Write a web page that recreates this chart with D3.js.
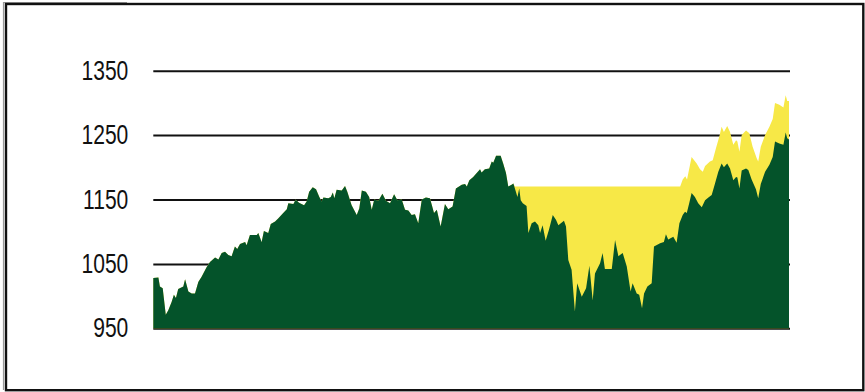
<!DOCTYPE html>
<html>
<head>
<meta charset="utf-8">
<script src="https://cdn.jsdelivr.net/npm/d3@7"></script>
<style>
  html, body { margin: 0; padding: 0; background: #fff; }
  svg { display: block; }
</style>
</head>
<body>
<svg id="chart" width="865" height="392"></svg>
<script>
// Index level by trading day
const indexDays = [0,2.0,2.6,3.7,4.9,5.9,7.2,8.1,8.9,9.8,
  11.8,12.5,13.8,15.1,16.4,17.7,19.0,21.0,22.3,24.3,
  25.6,26.9,28.2,29.5,30.8,32.1,33.0,34.1,36.1,36.7,
  38.0,40.7,41.3,42.6,43.5,45.2,46.2,47.9,49.2,51.1,
  52.5,53.1,55.1,56.0,57.3,59.3,60.3,61.3,62.7,64.0,
  65.3,66.2,66.9,68.8,69.8,70.6,71.2,72.1,74.1,75.4,
  76.3,78.0,80.0,81.0,82.0,83.6,84.9,85.9,86.9,88.5,
  90.1,91.5,93.1,94.7,96.0,97.7,99.0,100.3,101.6,102.9,
  104.2,105.6,107.2,108.8,110.4,111.5,113.0,114.7,116.0,117.7,
  119.0,121.3,122.6,123.3,124.3,125.8,127.2,128.5,129.1,130.4,
  132.1,133.1,133.7,134.8,136.6,137.6,138.7,139.6,140.9,141.6,
  142.6,143.2,143.9,144.5,145.3,146.8,147.5,148.8,150.1,151.4,
  152.1,153.1,154.3,155.6,157.1,158.4,159.3,161.5,162.3,163.2,
  164.5,165.8,166.7,168.5,170.2,171.5,172.8,173.7,175.7,176.7,
  177.6,180.3,181.6,182.9,184.6,186.2,187.7,188.5,190.1,191.1,
  192.2,193.0,194.3,196.0,196.9,199.3,200.8,201.6,202.5,204.5,
  205.8,206.9,208.2,209.1,209.8,210.8,211.7,213.0,214.3,215.7,
  217.0,218.3,219.6,220.9,222.2,223.5,224.4,225.7,226.8,228.1,
  229.2,229.7,230.5,231.4,233.1,234.0,235.3,237.0,237.9,238.9,
  240.6,242.3,243.6,244.5,246.2,247.8,248.7,249.3,250.0];
const indexValues = [1028,1029,1015,1012,971,978,991,1002,997,1011,
  1015,1026,1007,1004,1004,1022,1030,1045,1053,1060,
  1057,1067,1069,1064,1062,1077,1073,1081,1084,1079,
  1095,1095,1098,1084,1101,1098,1112,1116,1121,1129,
  1135,1144,1143,1150,1145,1141,1147,1162,1169,1166,
  1154,1147,1153,1152,1154,1161,1152,1165,1164,1171,
  1162,1141,1126,1136,1164,1162,1154,1134,1150,1148,
  1159,1148,1144,1158,1149,1150,1134,1133,1126,1127,
  1113,1150,1153,1152,1129,1134,1108,1143,1135,1139,
  1167,1173,1174,1170,1180,1185,1191,1197,1192,1197,
  1198,1209,1207,1218,1218,1206,1191,1170,1173,1175,
  1162,1154,1167,1149,1144,1140,1098,1113,1116,1110,
  1098,1110,1086,1103,1126,1118,1110,1117,1108,1056,
  1041,976,1020,999,1012,1047,993,1035,1051,1067,
  1042,1042,1087,1062,1067,1046,1007,1020,1004,1002,
  981,1004,1015,1020,1077,1082,1084,1096,1088,1092,
  1083,1113,1126,1131,1129,1145,1160,1154,1144,1138,
  1149,1153,1157,1175,1193,1206,1200,1206,1198,1180,
  1185,1184,1167,1195,1198,1196,1181,1166,1152,1174,
  1193,1204,1216,1240,1237,1235,1254,1245,1243];

// Upper band, from the day it separates from the index
const upperDays = [142.2,207.2,208.2,209.2,209.9,211.7,213.7,215.0,216.1,217.0,
  218.9,220.0,221.3,222.6,223.5,224.4,225.7,226.8,228.1,229.2,
  229.7,230.5,231.4,233.1,234.4,235.7,237.3,237.9,238.9,240.6,
  242.3,243.6,244.5,246.2,247.8,248.7,249.3,250.0];
const upperValues = [1170,1170,1181,1186,1181,1216,1206,1197,1193,1202,
  1209,1211,1230,1248,1263,1255,1264,1255,1235,1242,
  1240,1224,1250,1257,1253,1232,1214,1209,1232,1250,
  1263,1275,1300,1297,1293,1312,1303,1303];

const tickValues = [950, 1050, 1150, 1250, 1350];

const svg = d3.select("#chart");

const x = d3.scaleLinear().domain([0, 250]).range([153.3, 789]);
const y = d3.scaleLinear().domain([950, 1350]).range([328.3, 70.7]);

// outer frame
svg.append("path")
  .attr("d", "M3.5,390 V2.5 H127")
  .attr("fill", "none")
  .attr("stroke", "#9a9a9a")
  .attr("stroke-width", 1.2);
svg.append("rect")
  .attr("x", 6).attr("y", 4)
  .attr("width", 857.3).attr("height", 386.2)
  .attr("fill", "none")
  .attr("stroke", "#111")
  .attr("stroke-width", 2.4);

const index = indexDays.map((d, i) => ({ day: d, value: indexValues[i] }));
const upper = index.filter(p => p.day < upperDays[0])
  .concat(upperDays.map((d, i) => ({ day: d, value: upperValues[i] })));

// gridlines and value labels
const [x0, x1] = x.range();
const pad = 25;
const grid = svg.append("g")
  .attr("transform", `translate(${x0},0)`)
  .call(d3.axisLeft(y)
    .tickValues(tickValues)
    .tickSize(-(x1 - x0 + 1))
    .tickPadding(pad)
    .tickFormat(d3.format("d")));
grid.select(".domain").remove();
grid.selectAll(".tick line")
  .attr("stroke", "#111")
  .attr("stroke-width", 2);
grid.selectAll(".tick text")
  .attr("x", 0)
  .attr("transform", `translate(${-pad},0) scale(0.78,1)`)
  .attr("font-family", "'Liberation Sans', Arial, sans-serif")
  .attr("font-size", 27)
  .attr("fill", "#111");

const area = d3.area()
  .x(d => x(d.day))
  .y0(y(950))
  .y1(d => y(d.value));

svg.append("path")
  .datum(upper)
  .attr("fill", "#f7e847")
  .attr("d", area);

svg.append("path")
  .datum(index)
  .attr("fill", "#04532a")
  .attr("d", area);
</script>
</body>
</html>
